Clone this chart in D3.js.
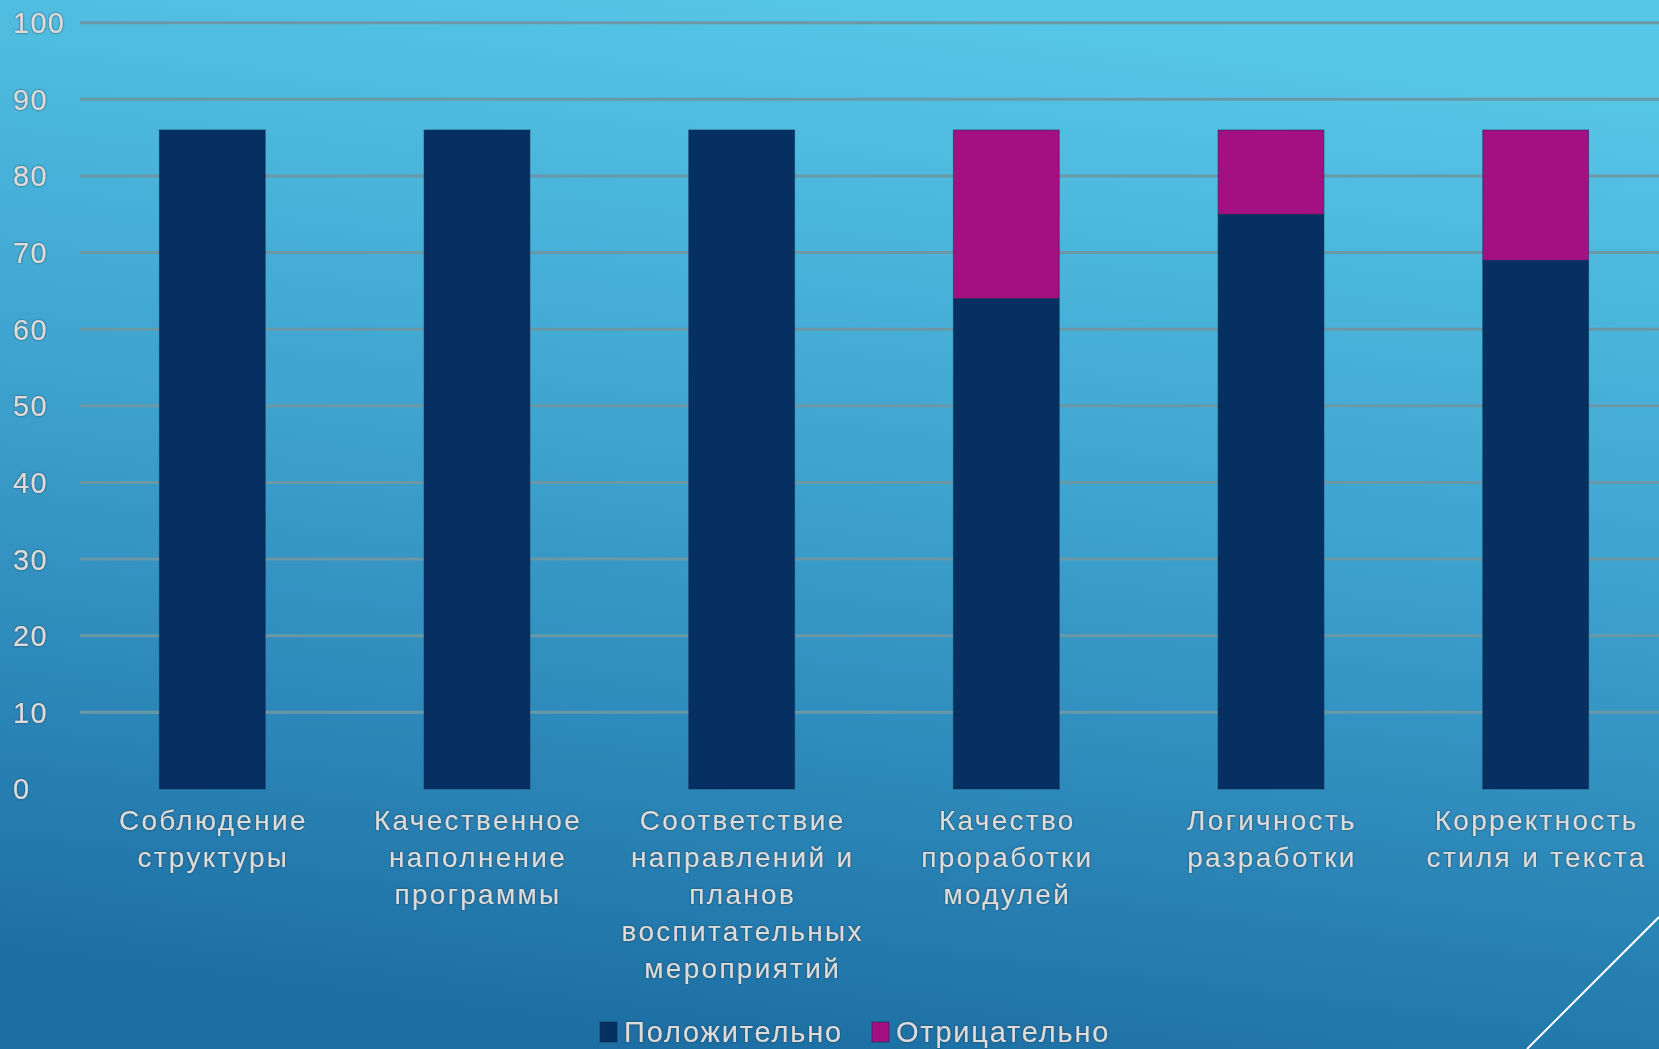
<!DOCTYPE html>
<html>
<head>
<meta charset="utf-8">
<script src="https://cdn.jsdelivr.net/npm/d3@7"></script>
<style>
  html, body { margin: 0; padding: 0; overflow: hidden; }
  svg { display: block; }
  .lbl { font-family: "Liberation Sans", Arial, sans-serif; fill: #dcdcdc; }
</style>
</head>
<body>
<div id="chart"></div>
<script>
var svgWidth = 1659;
var svgHeight = 1049;

// data
var categories = [
  "Соблюдение\nструктуры",
  "Качественное\nнаполнение\nпрограммы",
  "Соответствие\nнаправлений и\nпланов\nвоспитательных\nмероприятий",
  "Качество\nпроработки\nмодулей",
  "Логичность\nразработки",
  "Корректность\nстиля и текста"
];
var positive = [86, 86, 86, 64, 75, 69];
var negative = [0, 0, 0, 22, 11, 17];
var seriesNames = ["Положительно", "Отрицательно"];
var seriesColors = ["#062f62", "#a40f82"];
var yTicks = [0, 10, 20, 30, 40, 50, 60, 70, 80, 90, 100];

var svg = d3.select("#chart")
  .append("svg")
  .attr("width", svgWidth)
  .attr("height", svgHeight);

var defs = svg.append("defs");

// background gradient
var grad = defs.append("linearGradient")
  .attr("id", "bg")
  .attr("x1", "0.6").attr("y1", "0")
  .attr("x2", "0.4").attr("y2", "1");
grad.append("stop").attr("offset", "0%").attr("stop-color", "#57c7e7");
grad.append("stop").attr("offset", "45%").attr("stop-color", "#3ea3cf");
grad.append("stop").attr("offset", "100%").attr("stop-color", "#1c6ea3");

// soft halo round the text
var glow = defs.append("filter").attr("id", "glow")
  .attr("x", "-10%").attr("y", "-30%").attr("width", "120%").attr("height", "160%");
glow.append("feDropShadow")
  .attr("dx", 0).attr("dy", 0)
  .attr("stdDeviation", 1.3)
  .attr("flood-color", "#2a3a44")
  .attr("flood-opacity", 0.9);

svg.append("rect")
  .attr("width", svgWidth)
  .attr("height", svgHeight)
  .attr("fill", "url(#bg)");

// scales
var x = d3.scaleBand()
  .domain(categories)
  .range([80, 1668])
  .paddingInner(0.6)
  .paddingOuter(0.3);

var y = d3.scaleLinear()
  .domain([0, 100])
  .range([789, 22.7]);

// gridlines (no line at 0)
svg.append("g")
  .selectAll("line")
  .data(yTicks.filter(function (d) { return d > 0; }))
  .enter()
  .append("line")
  .attr("x1", 80)
  .attr("x2", svgWidth)
  .attr("y1", function (d) { return y(d); })
  .attr("y2", function (d) { return y(d); })
  .attr("stroke", "#6b98a7")
  .attr("stroke-width", 3);

// y tick labels
svg.append("g")
  .selectAll("text")
  .data(yTicks)
  .enter()
  .append("text")
  .attr("class", "lbl")
  .attr("x", 13)
  .attr("y", function (d) { return y(d); })
  .attr("dy", "0.36em")
  .attr("filter", "url(#glow)")
  .style("font-size", "29px")
  .style("letter-spacing", "1.3px")
  .text(function (d) { return d; });

// stacked bars
var rows = categories.map(function (c, i) {
  return { cat: c, pos: positive[i], neg: negative[i] };
});
var stack = d3.stack().keys(["pos", "neg"])(rows);

svg.append("g")
  .selectAll("g")
  .data(stack)
  .enter()
  .append("g")
  .attr("fill", function (d, i) { return seriesColors[i]; })
  .selectAll("rect")
  .data(function (d) { return d.filter(function (p) { return p[1] - p[0] > 0; }); })
  .enter()
  .append("rect")
  .attr("x", function (d) { return x(d.data.cat); })
  .attr("y", function (d) { return y(d[1]); })
  .attr("width", x.bandwidth())
  .attr("height", function (d) { return y(d[0]) - y(d[1]); })
  .attr("stroke", "#0b2a4a")
  .attr("stroke-opacity", 0.5)
  .attr("stroke-width", 1);

// category labels
var catLabels = svg.append("g")
  .selectAll("text")
  .data(categories)
  .enter()
  .append("text")
  .attr("class", "lbl")
  .attr("text-anchor", "middle")
  .attr("filter", "url(#glow)")
  .style("font-size", "28px")
  .style("letter-spacing", "2.3px")
  .attr("transform", function (d) {
    return "translate(" + (x(d) + x.bandwidth() / 2 + 1) + ",820)";
  });

catLabels.selectAll("tspan")
  .data(function (d) { return d.split("\n"); })
  .enter()
  .append("tspan")
  .attr("x", 0)
  .attr("y", function (d, i) { return i * 37; })
  .attr("dy", "0.36em")
  .text(function (d) { return d; });

// legend
var legendX = [600, 872];
var legend = svg.append("g")
  .selectAll("g")
  .data(seriesNames)
  .enter()
  .append("g")
  .attr("transform", function (d, i) { return "translate(" + legendX[i] + ",0)"; });

legend.append("rect")
  .attr("x", 0)
  .attr("y", 1022)
  .attr("width", 17)
  .attr("height", 20)
  .attr("fill", function (d, i) { return seriesColors[i]; })
  .attr("stroke", "#0b2a4a")
  .attr("stroke-opacity", 0.5);

legend.append("text")
  .attr("class", "lbl")
  .attr("x", 24)
  .attr("y", 1032)
  .attr("dy", "0.36em")
  .attr("filter", "url(#glow)")
  .style("font-size", "29px")
  .style("letter-spacing", "1.8px")
  .text(function (d) { return d; });

// decorative diagonal line in the corner
svg.append("line")
  .attr("x1", 1527).attr("y1", svgHeight)
  .attr("x2", svgWidth).attr("y2", 917)
  .attr("stroke", "#ffffff")
  .attr("stroke-width", 2);
</script>
</body>
</html>
